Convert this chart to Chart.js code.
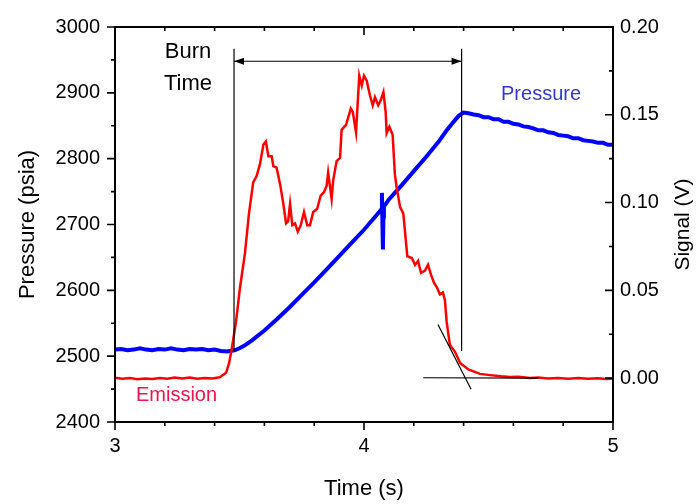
<!DOCTYPE html>
<html>
<head>
<meta charset="utf-8">
<script src="https://cdn.jsdelivr.net/npm/chart.js@4.4.1/dist/chart.umd.min.js"></script>
<style>
  html, body { margin: 0; padding: 0; background: #fff; }
</style>
</head>
<body>
<canvas id="burnChart" width="698" height="504"></canvas>
<script>
// pressure trace (left axis, psia)
const pressureTime = [3.000, 3.025, 3.050, 3.075, 3.100, 3.125, 3.150, 3.175, 3.200, 3.225, 3.250, 3.275,
  3.300, 3.325, 3.350, 3.375, 3.400, 3.425, 3.450, 3.48, 3.50, 3.52, 3.55,
  3.60, 3.65, 3.70, 3.75, 3.80, 3.85, 3.90, 3.95, 4.00, 4.05, 4.07, 4.072, 4.074, 4.076, 4.078, 4.08,
  4.10, 4.15, 4.20, 4.25, 4.30, 4.33, 4.36, 4.38, 4.40, 4.42, 4.44, 4.46, 4.48, 4.50, 4.52, 4.54,
  4.56, 4.58, 4.60, 4.62, 4.64, 4.66, 4.68, 4.70, 4.72, 4.74, 4.76, 4.78, 4.80, 4.82, 4.84, 4.86,
  4.88, 4.90, 4.92, 4.94, 4.96, 4.98, 5.00];
const pressurePsia = [2510, 2511, 2509, 2510, 2512, 2510, 2509, 2511, 2510, 2512, 2510, 2509,
  2511, 2510, 2511, 2509, 2510, 2508, 2507, 2509, 2512, 2516, 2524,
  2539, 2556, 2574, 2593, 2612, 2632, 2652, 2672, 2692, 2714, 2723, 2748, 2700, 2662, 2712, 2727,
  2738, 2759, 2781, 2803, 2826, 2842, 2856, 2865, 2870, 2869, 2867, 2866, 2863, 2863, 2860, 2860,
  2856, 2856, 2853, 2852, 2849, 2848, 2846, 2843, 2843, 2840, 2839, 2836, 2835, 2834, 2831, 2831,
  2828, 2827, 2826, 2824, 2824, 2821, 2821];

// emission trace (right axis, V)
const emissionTime = [3.00, 3.03, 3.06, 3.09, 3.12, 3.15, 3.18, 3.21, 3.24, 3.27, 3.30, 3.33, 3.36, 3.39, 3.42,
  3.428, 3.446, 3.458, 3.469, 3.486, 3.502, 3.522, 3.538, 3.555, 3.569, 3.582, 3.596, 3.606, 3.616,
  3.629, 3.636, 3.649, 3.663, 3.676, 3.687, 3.695, 3.703, 3.712, 3.723, 3.734, 3.746, 3.759, 3.772,
  3.783, 3.796, 3.812, 3.826, 3.839, 3.850, 3.856, 3.870, 3.876, 3.890, 3.904, 3.910, 3.928, 3.947,
  3.955, 3.968, 3.981, 3.991, 4.000, 4.011, 4.024, 4.035, 4.044, 4.057, 4.067, 4.078, 4.087, 4.091,
  4.102, 4.115, 4.124, 4.131, 4.145, 4.158, 4.174, 4.192, 4.205, 4.217, 4.229, 4.245, 4.257, 4.269,
  4.281, 4.293, 4.305, 4.317, 4.325, 4.332, 4.345, 4.365, 4.386, 4.419, 4.466, 4.506, 4.55, 4.586,
  4.62, 4.667, 4.70, 4.74, 4.78, 4.82, 4.86, 4.90, 4.94, 4.97, 5.00];
const emissionSignal = [0.0002, -0.0004, 0.0000, -0.0006, -0.0002, -0.0005, 0.0001, -0.0003, 0.0004, -0.0002, 0.0003, -0.0004, 0.0001, -0.0002, 0.0005,
  0.0012, 0.0030, 0.0084, 0.0168, 0.0320, 0.0516, 0.0712, 0.0937, 0.1115, 0.1152, 0.1217, 0.1330, 0.1348, 0.1264,
  0.1264, 0.1208, 0.1199, 0.1105, 0.0993, 0.0881, 0.0892, 0.0993, 0.0871, 0.0881, 0.0834, 0.0871, 0.0946, 0.0871,
  0.0871, 0.0946, 0.0965, 0.1040, 0.1059, 0.1096, 0.1171, 0.1021, 0.1124, 0.1236, 0.1255, 0.1414, 0.1442, 0.1535,
  0.1516, 0.1400, 0.1722, 0.1666, 0.1722, 0.1694, 0.1610, 0.1554, 0.1600, 0.1554, 0.1582, 0.1629, 0.1516, 0.1395,
  0.1432, 0.1386, 0.1161, 0.1087, 0.0974, 0.0937, 0.0694, 0.0684, 0.0645, 0.0668, 0.0600, 0.0612, 0.0645, 0.0589,
  0.0544, 0.0516, 0.0477, 0.0488, 0.0443, 0.0320, 0.0189, 0.0151, 0.0086, 0.0049, 0.0024, 0.0017, 0.0010, 0.0006,
  0.0008, 0.0000, 0.0003, -0.0002, 0.0001, -0.0004, 0.0000, -0.0003, -0.0001, -0.0005, -0.0004];

// axis ticks
const timeTicks = [3, 4, 5];
const pressureTicks = [2400, 2500, 2600, 2700, 2800, 2900, 3000];
const signalTicks = [0, 0.05, 0.10, 0.15, 0.20];

// burn time markers (s) and their extent (psia)
const burnTime = [3.478, 4.392];
const burnLinePsia = [2508, 2967];
const burnArrowPsia = 2948;

// tangent construction at the end of emission (s, V)
const tangentTime = [4.297, 4.43];
const tangentSignal = [0.0305, -0.0063];
const baselineTime = [4.238, 4.70];
const baselineSignal = [0.0002, 0.0];

const FONT = "'Liberation Sans', Arial, Helvetica, sans-serif";
Chart.defaults.font.family = FONT;
Chart.defaults.color = '#000';

function toPoints(xs, ys) {
  return xs.map((x, i) => ({ x: x, y: ys[i] }));
}

const blackLine = { borderColor: '#000', borderWidth: 1.2, pointRadius: 0, order: 0 };

const decorations = {
  id: 'decorations',
  afterDatasetsDraw(chart) {
    const { ctx, chartArea: a, scales } = chart;
    const x = scales.x, yP = scales.y, yS = scales.y2;
    ctx.save();

    // frame
    ctx.strokeStyle = '#000';
    ctx.lineWidth = 2;
    ctx.strokeRect(a.left, a.top, a.right - a.left, a.bottom - a.top);

    // tick marks
    ctx.lineWidth = 1.6;
    ctx.beginPath();
    for (let i = 0; i <= 10; i++) {
      const px = x.getPixelForValue(3 + i * 0.2);
      const len = i % 5 === 0 ? 8 : 4;
      ctx.moveTo(px, a.bottom); ctx.lineTo(px, a.bottom + len);
      ctx.moveTo(px, a.top); ctx.lineTo(px, a.top + len);
    }
    for (let i = 0; i <= 12; i++) {
      const py = yP.getPixelForValue(2400 + i * 50);
      const len = i % 2 === 0 ? 8 : 4;
      ctx.moveTo(a.left, py); ctx.lineTo(a.left - len, py);
    }
    for (let i = 0; i <= 9; i++) {
      const py = yS.getPixelForValue(-0.025 + i * 0.025);
      const len = i % 2 === 1 ? 8 : 4;
      ctx.moveTo(a.right, py); ctx.lineTo(a.right - len, py);
    }
    ctx.stroke();

    // arrowheads on the burn time span
    const ay = yP.getPixelForValue(burnArrowPsia);
    const xl = x.getPixelForValue(burnTime[0]);
    const xr = x.getPixelForValue(burnTime[1]);
    ctx.fillStyle = '#000';
    ctx.beginPath();
    ctx.moveTo(xl, ay); ctx.lineTo(xl + 10, ay - 3.5); ctx.lineTo(xl + 10, ay + 3.5); ctx.closePath();
    ctx.moveTo(xr, ay); ctx.lineTo(xr - 10, ay - 3.5); ctx.lineTo(xr - 10, ay + 3.5); ctx.closePath();
    ctx.fill();

    // labels
    ctx.textAlign = 'center';
    ctx.textBaseline = 'middle';
    ctx.font = '22px ' + FONT;
    ctx.fillStyle = '#000';
    ctx.fillText('Burn', x.getPixelForValue(3.293), yP.getPixelForValue(2962));
    ctx.fillText('Time', x.getPixelForValue(3.293), yP.getPixelForValue(2913));
    ctx.font = '20px ' + FONT;
    ctx.fillStyle = '#3535d0';
    ctx.fillText('Pressure', x.getPixelForValue(4.711), yP.getPixelForValue(2898));
    ctx.fillStyle = '#f0144a';
    ctx.fillText('Emission', x.getPixelForValue(3.247), yS.getPixelForValue(-0.0101));

    // right axis title, reading bottom to top
    ctx.fillStyle = '#000';
    ctx.font = '21px ' + FONT;
    ctx.translate(683, (a.top + a.bottom) / 2);
    ctx.rotate(-Math.PI / 2);
    ctx.fillText('Signal (V)', 0, 0);
    ctx.restore();
  }
};

new Chart(document.getElementById('burnChart').getContext('2d'), {
  type: 'line',
  data: {
    datasets: [
      { ...blackLine, data: toPoints([burnTime[0], burnTime[0]], burnLinePsia), yAxisID: 'y' },
      { ...blackLine, data: toPoints([burnTime[1], burnTime[1]], burnLinePsia), yAxisID: 'y' },
      { ...blackLine, data: toPoints(burnTime, [burnArrowPsia, burnArrowPsia]), yAxisID: 'y' },
      { ...blackLine, data: toPoints(tangentTime, tangentSignal), yAxisID: 'y2' },
      { ...blackLine, data: toPoints(baselineTime, baselineSignal), yAxisID: 'y2' },
      {
        label: 'Emission',
        data: toPoints(emissionTime, emissionSignal),
        yAxisID: 'y2',
        borderColor: '#ff0000',
        borderWidth: 2.5,
        pointRadius: 0,
        tension: 0,
        order: 1
      },
      {
        label: 'Pressure',
        data: toPoints(pressureTime, pressurePsia),
        yAxisID: 'y',
        borderColor: '#0000ff',
        borderWidth: 4,
        pointRadius: 0,
        tension: 0,
        order: 2
      }
    ]
  },
  options: {
    responsive: false,
    animation: false,
    layout: { padding: { top: 21, left: 0, right: 0, bottom: 0 } },
    plugins: { legend: { display: false }, tooltip: { enabled: false } },
    scales: {
      x: {
        type: 'linear',
        min: 3,
        max: 5,
        grid: { display: false, drawTicks: false },
        border: { display: false },
        afterBuildTicks: (s) => { s.ticks = timeTicks.map((v) => ({ value: v })); },
        afterFit: (s) => { s.height = 82; },
        ticks: { padding: 12, font: { size: 20 }, maxRotation: 0, callback: (v) => String(v) },
        title: { display: true, text: 'Time (s)', font: { size: 22 }, padding: { bottom: 2 } }
      },
      y: {
        position: 'left',
        min: 2400,
        max: 3000,
        grid: { display: false, drawTicks: false },
        border: { display: false },
        afterBuildTicks: (s) => { s.ticks = pressureTicks.map((v) => ({ value: v })); },
        afterFit: (s) => { s.width = 115; },
        ticks: { padding: 15, font: { size: 20 }, callback: (v) => String(v) },
        title: { display: true, text: 'Pressure (psia)', font: { size: 22 }, padding: { top: 15 } }
      },
      y2: {
        position: 'right',
        min: -0.025,
        max: 0.2,
        grid: { display: false, drawTicks: false },
        border: { display: false },
        afterBuildTicks: (s) => { s.ticks = signalTicks.map((v) => ({ value: v })); },
        afterFit: (s) => { s.width = 85; },
        ticks: { padding: 7, font: { size: 20 }, callback: (v) => v.toFixed(2) }
      }
    }
  },
  plugins: [decorations]
});
</script>
</body>
</html>
